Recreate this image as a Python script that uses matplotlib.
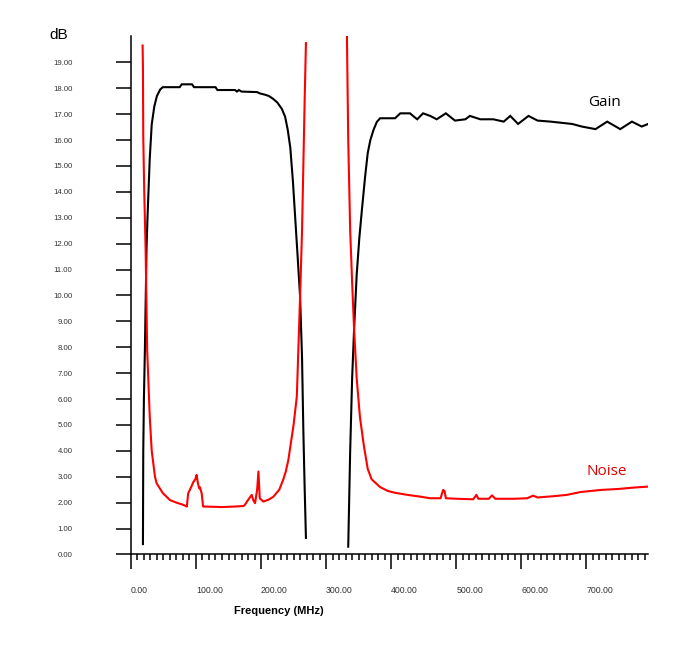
import matplotlib
matplotlib.use("Agg")
import matplotlib.pyplot as plt
import numpy as np

# Gain, band 1
gain1_f = [18.5, 19, 20, 21.5, 24, 25.5, 27, 29, 32, 36, 40, 45, 49, 75, 78, 94, 97, 130, 133, 160, 163, 166,
           170, 194, 198, 206, 212, 218, 225, 232, 237, 241, 245, 249, 252, 256, 260, 263, 265, 267, 269]
gain1_db = [0.4, 4, 6, 7.9, 11.8, 13, 14, 15.3, 16.6, 17.3, 17.7, 17.95, 18.04, 18.04, 18.15, 18.15, 18.04,
            18.04, 17.93, 17.93, 17.87, 17.93, 17.87, 17.85, 17.8, 17.75, 17.7, 17.6, 17.45, 17.2, 16.9, 16.4,
            15.7, 14.4, 13.2, 11.6, 9.95, 7.6, 4.8, 2.6, 0.64]
# Gain, band 2
gain2_f = [334, 337, 340, 343, 347, 351, 355, 360, 364, 368, 373, 378, 383, 406, 414, 429, 435, 440, 449, 460,
           470, 484, 498, 514, 521, 537, 557, 573, 583, 595, 611, 625, 645, 678, 693, 714, 732, 752, 770, 785, 795]
gain2_db = [0.3, 4, 6.8, 8.7, 10.8, 12.2, 13.3, 14.6, 15.5, 16.0, 16.4, 16.7, 16.84, 16.84, 17.03, 17.03, 16.9,
            16.8, 17.03, 16.93, 16.8, 17.03, 16.75, 16.8, 16.93, 16.8, 16.8, 16.71, 16.93, 16.62, 16.93, 16.75,
            16.71, 16.62, 16.52, 16.42, 16.71, 16.42, 16.71, 16.52, 16.62]
# Noise, band 1
noise1_f = [18, 18.5, 19, 20.5, 22.6, 25, 29, 32, 37, 39.5, 49, 60, 70, 80, 86, 88, 93, 96, 99, 101,
            103, 105, 106, 108.7, 111, 140, 160, 173, 175, 180, 185.7, 188, 190.8, 194, 196, 198, 203.5, 212,
            219, 228, 234, 238, 242, 245, 250, 255, 260, 263, 265, 267, 269]
noise1_db = [19.65, 18.8, 16.1, 14, 11.8, 7.9, 5.3, 4.0, 3.0, 2.75, 2.37, 2.1, 2.0, 1.92, 1.85, 2.36,
             2.62, 2.8, 2.9, 3.07, 2.75, 2.55, 2.6, 2.37, 1.85, 1.83, 1.85, 1.87, 1.91, 2.1, 2.3, 2.1, 1.98, 2.5,
             3.2, 2.17, 2.04, 2.12, 2.23, 2.5, 2.88, 3.2, 3.65, 4.16, 5.0, 6.1, 9.95, 12.5, 15, 17.5, 19.74]
# Noise, band 2
noise2_f = [332, 334, 337, 340, 343, 347, 352, 358, 364, 370, 383, 395, 406, 425, 445, 460, 476, 478, 480, 482,
            484, 500, 526, 531, 534, 550, 555, 560, 590, 609, 618, 625, 650, 670, 691, 722, 750, 772, 795]
noise2_db = [20.0, 16, 12.5, 10.5, 8.7, 6.8, 5.3, 4.2, 3.3, 2.9, 2.6, 2.45, 2.38, 2.3, 2.23, 2.17, 2.17, 2.35,
             2.49, 2.45, 2.17, 2.15, 2.13, 2.3, 2.15, 2.15, 2.28, 2.15, 2.15, 2.17, 2.27, 2.2, 2.25, 2.3, 2.41,
             2.49, 2.53, 2.58, 2.62]

y_ticks = list(range(0, 20))
x_ticks = [0, 100, 200, 300, 400, 500, 600, 700]

fig = plt.figure(figsize=(7, 6.5), dpi=100)
ax = fig.add_axes([0.187, 0.147, 0.739, 0.797])

ax.plot(gain1_f, gain1_db, color="black", lw=1.5, solid_joinstyle="miter")
ax.plot(gain2_f, gain2_db, color="black", lw=1.5, solid_joinstyle="miter")
ax.plot(noise1_f, noise1_db, color="#ff0000", lw=1.5)
ax.plot(noise2_f, noise2_db, color="#ff0000", lw=1.5)

ax.set_xlim(0, 795)
ax.set_ylim(0, 20)
for s in ["top", "right"]:
    ax.spines[s].set_visible(False)
for s in ["left", "bottom"]:
    ax.spines[s].set_linewidth(1.1)

ax.set_yticks(y_ticks)
ax.set_yticklabels([f"{v:.2f}" for v in y_ticks], fontsize=5.6, color="#333333", family="Liberation Sans")
ax.set_xticks(x_ticks)
ax.set_xticklabels([f"{v:.2f}" for v in x_ticks], fontsize=6.3, color="#333333", family="Liberation Sans")
ax.set_xticks(np.arange(0, 800, 10), minor=True)
ax.tick_params(axis="y", which="major", direction="out", length=11, width=1.1, pad=31)
ax.tick_params(axis="x", which="major", direction="out", length=10.6, width=1.1, pad=12)
ax.tick_params(axis="x", which="minor", direction="out", length=4, width=1.1)
for lab in ax.get_xticklabels():
    lab.set_horizontalalignment("left")

ax.set_xlabel("Frequency (MHz)", fontsize=8, fontweight="bold", family="Liberation Sans")
ax.xaxis.set_label_coords((279 - 131) / 517, -0.1)

fig.text(59 / 700, 1 - 35 / 650, "dB", fontsize=11, ha="center", va="center", family="Liberation Sans")
ax.text(728, 17.45, "Gain", fontsize=11, ha="center", va="center", color="black", family="Open Sans")
ax.text(731, 3.2, "Noise", fontsize=11, ha="center", va="center", color="#dd0000", family="Open Sans")

fig.savefig("out.png", dpi=100)
